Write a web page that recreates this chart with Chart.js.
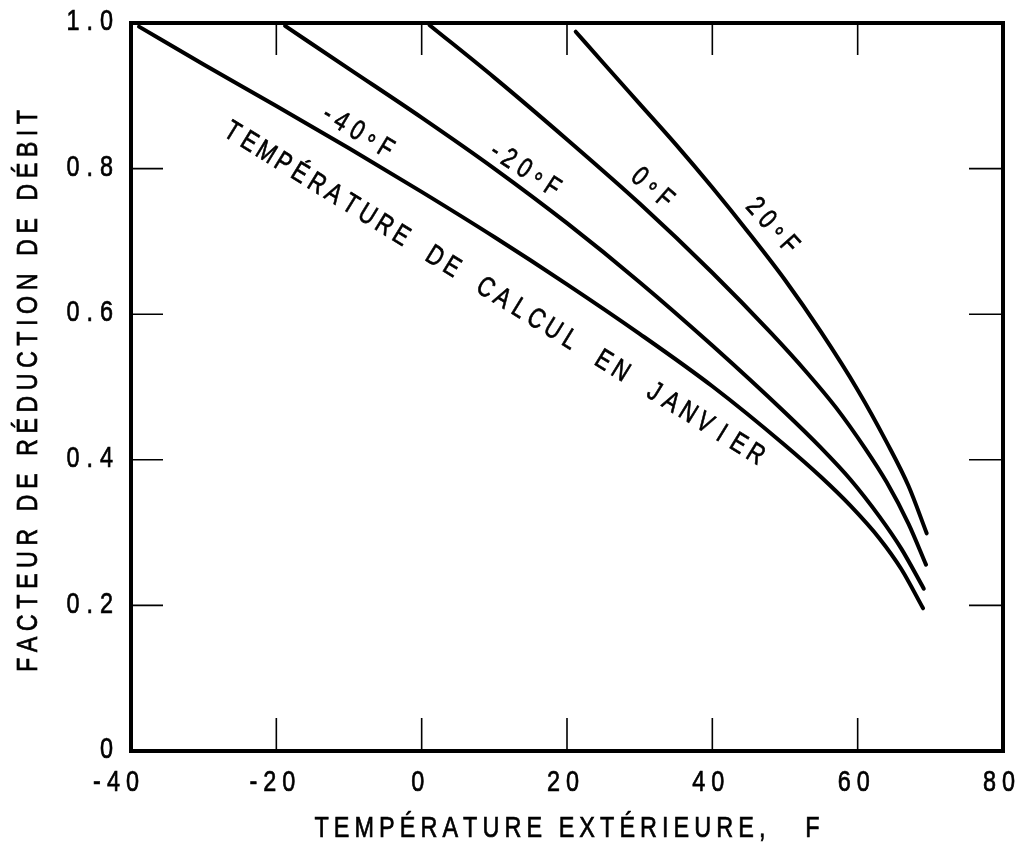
<!DOCTYPE html>
<html>
<head>
<meta charset="utf-8">
<script src="https://cdn.jsdelivr.net/npm/chart.js@4.4.1/dist/chart.umd.min.js"></script>
<style>
  html, body { margin: 0; padding: 0; background: #fff; }
  #wrap { width: 1024px; height: 854px; }
</style>
</head>
<body>
<div id="wrap"><canvas id="chart"></canvas></div>
<script>
// axis ticks
const xTicks = [-40, -20, 0, 20, 40, 60, 80];
const yTicks = [0, 0.2, 0.4, 0.6, 0.8, 1.0];
const xTitle = 'TEMPÉRATURE EXTÉRIEURE,   F';
const yTitle = 'FACTEUR DE RÉDUCTION DE DÉBIT';
const caption = 'TEMPÉRATURE DE CALCUL EN JANVIER';

// one curve per January design temperature
const curveNames = ['-40°F', '-20°F', '0°F', '20°F'];

const xMinus40 = [-38.9, -30, -20, -10, 0, 10, 20, 30, 40, 50, 55, 59, 63, 66, 69];
const yMinus40 = [0.995, 0.943, 0.886, 0.828, 0.768, 0.706, 0.641, 0.573, 0.501, 0.420, 0.376, 0.337, 0.292, 0.250, 0.196];

const xMinus20 = [-18.8, -10, 0, 10, 20, 30, 40, 50, 55, 59, 63, 66, 69.1];
const yMinus20 = [0.996, 0.937, 0.870, 0.800, 0.725, 0.644, 0.557, 0.465, 0.416, 0.373, 0.322, 0.278, 0.223];

const xZero = [1.1, 10, 20, 30, 40, 48, 53, 57, 61, 64, 67, 69.4];
const yZero = [0.997, 0.925, 0.840, 0.752, 0.657, 0.575, 0.520, 0.472, 0.416, 0.369, 0.312, 0.256];

const xPlus20 = [21.2, 25, 30, 35, 40, 45, 50, 55, 60, 64, 67, 69.5];
const yPlus20 = [0.988, 0.945, 0.889, 0.833, 0.774, 0.712, 0.647, 0.575, 0.496, 0.424, 0.364, 0.299];

const seriesX = [xMinus40, xMinus20, xZero, xPlus20];
const seriesY = [yMinus40, yMinus20, yZero, yPlus20];

const FONT = "'Liberation Sans', Arial, sans-serif";
const SX = 0.78; // horizontal squeeze to get the narrow lettering

function toPoints(xs, ys) {
    return xs.map((x, i) => ({ x: x, y: ys[i] }));
}

function glyph(ctx, c) {
    ctx.fillText(c, 0, 0);
    ctx.strokeText(c, 0, 0);
}

// draws text letter by letter, squeezed, with extra tracking
function drawTracked(ctx, text, cx, cy, opts) {
    const size = opts.size || 30;
    const sx = opts.sx || SX;
    ctx.save();
    ctx.translate(cx, cy);
    ctx.rotate((opts.angle || 0) * Math.PI / 180);
    ctx.font = size + 'px ' + FONT;
    ctx.textAlign = 'center';
    ctx.textBaseline = 'middle';
    ctx.lineWidth = 0.7;
    ctx.strokeStyle = '#000';
    const chars = Array.from(text);
    const widths = chars.map(c => ctx.measureText(c).width * sx);
    const natural = widths.reduce((a, b) => a + b, 0);
    let gap = opts.gap || 0;
    let total = natural + gap * (chars.length - 1);
    if (opts.span) {
        gap = (opts.span - natural) / (chars.length - 1);
        total = opts.span;
    }
    let cursor = opts.align === 'right' ? -total : -total / 2;
    chars.forEach((c, i) => {
        const mid = cursor + widths[i] / 2;
        ctx.save();
        ctx.translate(mid, c === '°' ? size * 0.2 : 0);
        ctx.scale(sx, 1);
        glyph(ctx, c);
        ctx.restore();
        cursor += widths[i] + gap;
    });
    ctx.restore();
}

// evenly spaced letter centres along a straight line
function drawEven(ctx, text, x0, y0, x1, y1, size) {
    const chars = Array.from(text);
    const ang = Math.atan2(y1 - y0, x1 - x0);
    ctx.save();
    ctx.font = size + 'px ' + FONT;
    ctx.textAlign = 'center';
    ctx.textBaseline = 'middle';
    ctx.lineWidth = 0.7;
    ctx.strokeStyle = '#000';
    chars.forEach((c, i) => {
        const t = i / (chars.length - 1);
        ctx.save();
        ctx.translate(x0 + (x1 - x0) * t, y0 + (y1 - y0) * t);
        ctx.rotate(ang);
        ctx.scale(SX, 1);
        glyph(ctx, c);
        ctx.restore();
    });
    ctx.restore();
}

// frame, inward tick marks, tick labels and axis titles
const framePlugin = {
    id: 'frame',
    afterDatasetsDraw(chart) {
        const ctx = chart.ctx;
        const a = chart.chartArea;
        const xs = chart.scales.x;
        const ys = chart.scales.y;
        ctx.save();
        ctx.strokeStyle = '#000';
        ctx.fillStyle = '#000';
        ctx.lineWidth = 1.6;
        ctx.beginPath();
        xs.ticks.slice(1, -1).forEach(t => {
            const px = xs.getPixelForValue(t.value);
            ctx.moveTo(px, a.bottom); ctx.lineTo(px, a.bottom - 33);
            ctx.moveTo(px, a.top); ctx.lineTo(px, a.top + 32);
        });
        ys.ticks.slice(1, -1).forEach(t => {
            const py = ys.getPixelForValue(t.value);
            ctx.moveTo(a.left, py); ctx.lineTo(a.left + 32, py);
            ctx.moveTo(a.right, py); ctx.lineTo(a.right - 34, py);
        });
        ctx.stroke();
        ctx.lineWidth = 4;
        ctx.strokeRect(a.left, a.top, a.right - a.left, a.bottom - a.top);

        xs.ticks.forEach((t, i) => {
            const label = t.value < 0 ? '-' + Math.abs(t.value) : String(t.value);
            const shift = i === 0 ? -15 : -4;
            drawTracked(ctx, label, xs.getPixelForValue(t.value) + shift, a.bottom + 32, { size: 30, gap: 6 });
        });
        ys.ticks.forEach(t => {
            const label = t.value === 0 ? '0' : t.value.toFixed(1);
            drawTracked(ctx, label, a.left - 18, ys.getPixelForValue(t.value) - 1, { size: 30, gap: 7, align: 'right' });
        });
        drawTracked(ctx, xTitle, (a.left + a.right) / 2, a.bottom + 78, { size: 30, span: 505 });
        drawTracked(ctx, yTitle, 29, (a.top + a.bottom) / 2 + 4, { size: 30, span: 562, angle: -90 });
        ctx.restore();
    }
};

// labels written along the curves
const labelPlugin = {
    id: 'curveLabels',
    afterDatasetsDraw(chart) {
        const ctx = chart.ctx;
        const xs = chart.scales.x;
        const ys = chart.scales.y;
        ctx.save();
        ctx.fillStyle = '#000';
        const anchors = [
            { x: -8.8, y: 0.850, angle: 31 },
            { x: 14.2, y: 0.798, angle: 33 },
            { x: 31.7, y: 0.773, angle: 41 },
            { x: 48.2, y: 0.721, angle: 48 }
        ];
        curveNames.forEach((name, i) => {
            const an = anchors[i];
            drawTracked(ctx, name, xs.getPixelForValue(an.x), ys.getPixelForValue(an.y),
                { size: 28, gap: 6, angle: an.angle });
        });
        drawEven(ctx, caption,
            xs.getPixelForValue(-26.1), ys.getPixelForValue(0.850),
            xs.getPixelForValue(45.9), ys.getPixelForValue(0.407), 28);
        ctx.restore();
    }
};

const datasets = curveNames.map((name, i) => ({
    label: name,
    data: toPoints(seriesX[i], seriesY[i]),
    showLine: true,
    borderColor: '#000',
    borderWidth: 4,
    borderCapStyle: 'round',
    pointRadius: 0,
    cubicInterpolationMode: 'monotone',
    fill: false
}));

new Chart(document.getElementById('chart'), {
    type: 'scatter',
    data: { datasets: datasets },
    options: {
        responsive: true,
        maintainAspectRatio: false,
        animation: false,
        layout: { padding: { left: 0, right: 21, top: 23, bottom: 0 } },
        plugins: {
            legend: { display: false },
            tooltip: { enabled: false }
        },
        scales: {
            x: {
                type: 'linear',
                min: -40,
                max: 80,
                afterBuildTicks: s => { s.ticks = xTicks.map(v => ({ value: v })); },
                afterFit: s => { s.height = 103; },
                grid: { display: false },
                border: { display: false },
                ticks: { display: false }
            },
            y: {
                type: 'linear',
                min: 0,
                max: 1,
                afterBuildTicks: s => { s.ticks = yTicks.map(v => ({ value: v })); },
                afterFit: s => { s.width = 131; },
                grid: { display: false },
                border: { display: false },
                ticks: { display: false }
            }
        }
    },
    plugins: [framePlugin, labelPlugin]
});
</script>
</body>
</html>
